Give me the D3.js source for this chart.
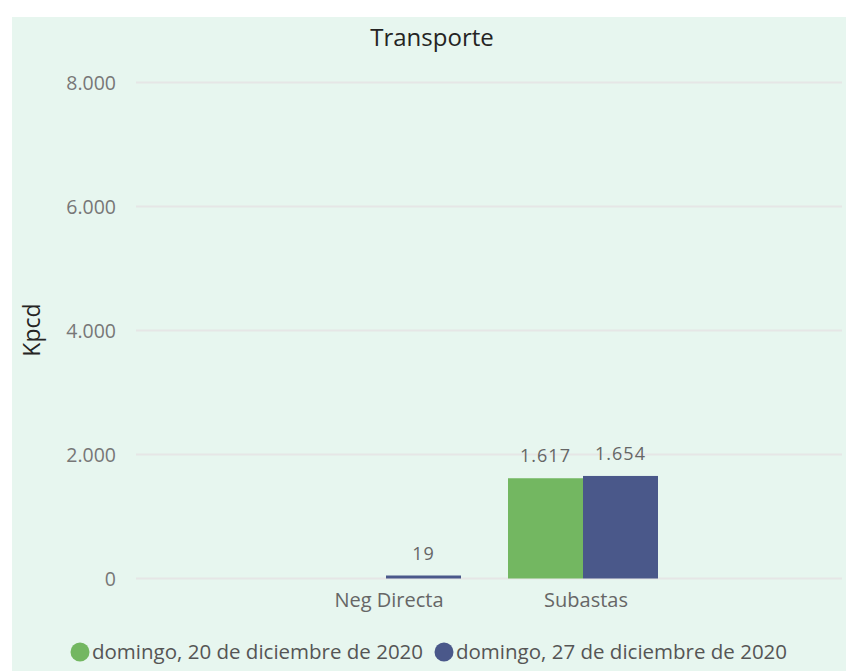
<!DOCTYPE html>
<html><head><meta charset="utf-8">
<script src="https://cdn.jsdelivr.net/npm/d3@7"></script>
<style>body{margin:0;background:#fff;}svg{display:block;}text{font-family:"Open Sans","Noto Sans",sans-serif;}</style>
</head><body>
<svg id="c" width="846" height="671"></svg>
<script>
const categories = ["Neg Directa", "Subastas"];
const seriesNames = ["domingo, 20 de diciembre de 2020", "domingo, 27 de diciembre de 2020"];
const series1 = [0, 1617];
const series2 = [19, 1654];
const yTicks = [0, 2000, 4000, 6000, 8000];
const colors = ["#73b761", "#4a588a"];

const svg = d3.select("#c");
svg.append("rect").attr("x",12).attr("y",17).attr("width",834).attr("height",654).attr("fill","#e7f6ef");

const fmt = v => d3.format(",")(v).replace(/,/g,".");
const y = d3.scaleLinear().domain([0,8000]).range([578.5,82.5]);
const x = d3.scaleBand().domain(categories).range([287.5,681.5]).paddingInner(47/197).paddingOuter(47/394);
const xs = d3.scaleBand().domain([0,1]).range([0,x.bandwidth()]);

const yAxis = d3.axisLeft(y).tickValues(yTicks).tickSize(0).tickFormat(fmt);
const gy = svg.append("g").attr("transform","translate(116,0)").call(yAxis);
gy.select(".domain").remove();
gy.selectAll("text").attr("fill","#777").style("font-size","19.5px").attr("x",0).attr("dy","0.34em");
svg.append("g").selectAll("line").data(yTicks).join("line")
  .attr("x1",136).attr("x2",842).attr("y1",d=>y(d)).attr("y2",d=>y(d))
  .attr("stroke","#e6e6e6").attr("stroke-width",2);

svg.append("text").attr("x",432).attr("y",46).attr("text-anchor","middle")
  .style("font-size","24px").attr("fill","#252423").text("Transporte");
svg.append("text").attr("transform","translate(40,330) rotate(-90)").attr("text-anchor","middle")
  .style("font-size","23px").attr("fill","#252423").text("Kpcd");

const data = categories.map((c,i)=>({c, vals:[series1[i], series2[i]]}));
const g = svg.append("g");
data.forEach(d=>{
  d.vals.forEach((v,j)=>{
    if(v<=0) return;
    const bx = x(d.c)+xs(j);
    const top = Math.min(y(v), y(0)-3);
    g.append("rect").attr("x",bx).attr("y",top).attr("width",xs.bandwidth()).attr("height",y(0)-top)
      .attr("fill",colors[j]);
    g.append("text").attr("x",bx+xs.bandwidth()/2).attr("y",top-16).attr("text-anchor","middle")
      .style("font-size","18px").style("letter-spacing","1px").attr("fill","#666").text(fmt(v));
  });
});

const xAxis = d3.axisBottom(x).tickSize(0);
const gx = svg.append("g").attr("transform","translate(3,0)").attr("transform","translate(3,590)").call(xAxis);
gx.select(".domain").remove();
gx.selectAll("text").attr("fill","#666").style("font-size","20px").attr("dy","0.71em").attr("y",3);

const legX = [80, 444];
const leg = svg.append("g").selectAll("g").data(seriesNames).join("g")
  .attr("transform",(d,i)=>`translate(${legX[i]},652)`);
leg.append("circle").attr("r",9.5).attr("fill",(d,i)=>colors[i]);
leg.append("text").attr("x",12).attr("dy","0.34em").style("font-size","20.5px").attr("fill","#555").text(d=>d);
</script>
</body></html>
